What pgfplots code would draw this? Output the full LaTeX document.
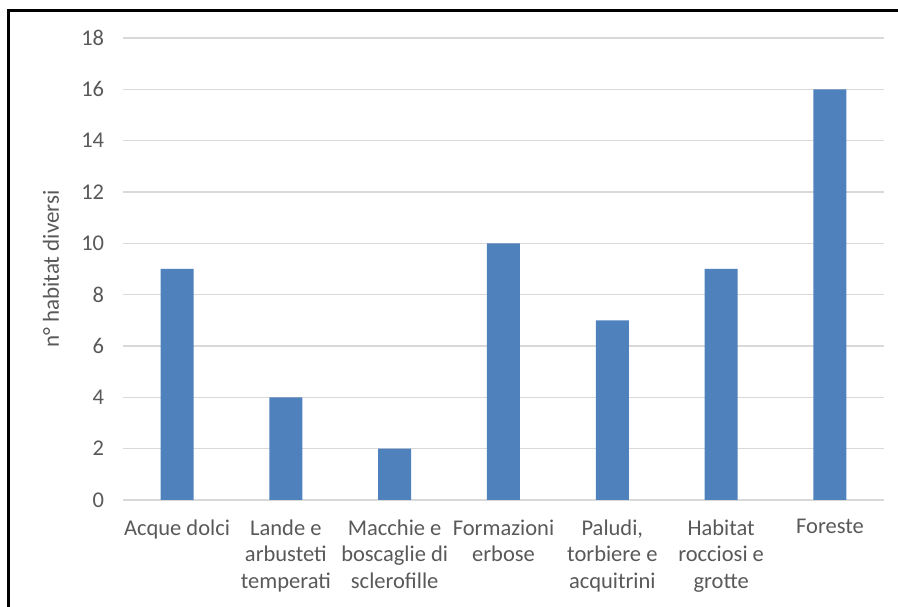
\documentclass[border=0pt]{standalone}
\usepackage{fontspec}
\setmainfont{Carlito}
\usepackage{pgfplots}
\pgfplotsset{compat=1.18}
\definecolor{barblue}{HTML}{4F81BD}
\definecolor{txtgray}{HTML}{595959}
\definecolor{gridgray}{HTML}{D9D9D9}
\newcommand\chartfont{\fontsize{22.5}{26.8}\selectfont}
\begin{document}
\begin{tikzpicture}[x=1pt,y=1pt]
\useasboundingbox (0,0) rectangle (898,607);
% outer frame (open towards the right and bottom edges)
\draw[line width=3pt, black] (8,-20) -- (8,596) -- (920,596);
\begin{axis}[
  at={(122.6pt,107pt)}, anchor=south west,
  scale only axis, width=761.8pt, height=462pt,
  xmin=-0.5, xmax=6.5, ymin=0, ymax=18,
  ytick={0,2,...,18},
  xtick={0,...,6},
  xticklabels={{Acque dolci},{Lande e\\arbusteti\\temperati},{Macchie e\\boscaglie di\\sclerofille},{Formazioni\\erbose},{Paludi,\\torbiere e\\acquitrini},{Habitat\\rocciosi e\\grotte},{Foreste}},
  ybar, bar width=33pt,
  axis x line*=bottom, axis y line*=left,
  x axis line style={draw=gridgray, line width=1.3pt, -},
  y axis line style={draw=none},
  major tick length=0pt,
  ymajorgrids, major grid style={draw=gridgray, line width=1.3pt},
  /pgf/number format/assume math mode=true,
  tick label style={font=\chartfont, text=txtgray},
  xticklabel style={align=center, yshift=-16pt},
  yticklabel style={xshift=-15pt},
  ylabel={n° habitat diversi},
  ylabel style={font=\fontsize{23}{27}\selectfont, text=txtgray, at={(axis description cs:-0.094,0.5)}, anchor=center},
]
\addplot[fill=barblue, draw=none] coordinates {(0,9) (1,4) (2,2) (3,10) (4,7) (5,9) (6,16)};
\end{axis}
\end{tikzpicture}
\end{document}
